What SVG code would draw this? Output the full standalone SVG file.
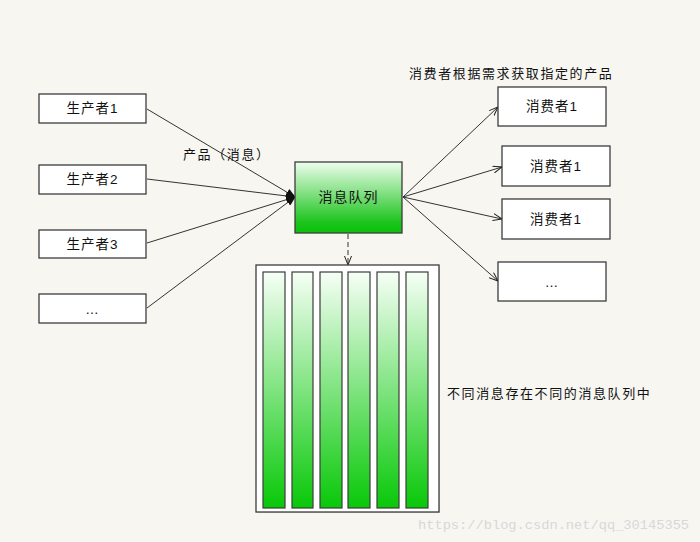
<svg xmlns="http://www.w3.org/2000/svg" width="700" height="542" viewBox="0 0 700 542">
<style>
.bg{fill:#f7f6f1}
.box{fill:#ffffff;stroke:#3c3c3c;stroke-width:1.3}
.gbox{fill:url(#g);stroke:#3c3c3c;stroke-width:1.3}
.bar{fill:url(#g2);stroke:#3c3c3c;stroke-width:1.2}
.t{font-family:"Liberation Sans","Noto Sans CJK SC",sans-serif;font-size:13.5px;fill:#111;text-anchor:middle;dominant-baseline:central;letter-spacing:1px}
.lbl{font-family:"Liberation Sans","Noto Sans CJK SC",sans-serif;font-size:13px;fill:#111;dominant-baseline:central;letter-spacing:1.6px}
.ln{stroke:#333;stroke-width:1;fill:none}
.wm{font-family:"Liberation Mono","Noto Sans CJK SC",monospace;font-size:13.7px;fill:#d8d8d8;dominant-baseline:central}
</style>
<defs>
<linearGradient id="g" x1="0" y1="0" x2="0" y2="1">
<stop offset="0" stop-color="#eefeee"/>
<stop offset="0.85" stop-color="#1cc41c"/>
<stop offset="1" stop-color="#0cc00c"/>
</linearGradient>
<linearGradient id="g2" x1="0" y1="0" x2="0" y2="1">
<stop offset="0" stop-color="#f6fff6"/>
<stop offset="1" stop-color="#08c808"/>
</linearGradient>
<marker id="af" markerWidth="10" markerHeight="8" refX="9" refY="4" orient="auto" markerUnits="userSpaceOnUse">
<path d="M0,0 L10,4 L0,8 Z" fill="#111"/>
</marker>
<marker id="ao" markerWidth="10" markerHeight="8" refX="9" refY="4" orient="auto" markerUnits="userSpaceOnUse">
<path d="M0,0.5 L9,4 L0,7.5" fill="none" stroke="#222" stroke-width="1"/>
</marker>
</defs>
<rect class="bg" x="0" y="0" width="700" height="542"/>

<g id="connectors">
<line class="ln" x1="147" y1="109" x2="295" y2="197" marker-end="url(#af)"/>
<line class="ln" x1="147" y1="179" x2="295" y2="197" marker-end="url(#af)"/>
<line class="ln" x1="147" y1="243" x2="295" y2="197" marker-end="url(#af)"/>
<line class="ln" x1="147" y1="308" x2="295" y2="197" marker-end="url(#af)"/>
<line class="ln" x1="403" y1="197" x2="498" y2="107" marker-end="url(#ao)"/>
<line class="ln" x1="403" y1="197" x2="502" y2="167" marker-end="url(#ao)"/>
<line class="ln" x1="403" y1="197" x2="502" y2="219" marker-end="url(#ao)"/>
<line class="ln" x1="403" y1="197" x2="498" y2="281" marker-end="url(#ao)"/>
<line class="ln" x1="348" y1="234" x2="348" y2="265" stroke-dasharray="5,3" marker-end="url(#ao)"/>
</g>

<text class="lbl" x="183" y="154">产品（消息）</text>
<text class="lbl" x="409" y="73">消费者根据需求获取指定的产品</text>
<text class="lbl" x="447" y="393">不同消息存在不同的消息队列中</text>

<g id="p1"><rect class="box" x="39" y="94" width="107" height="29"/><text class="t" x="92.5" y="108.5">生产者1</text></g>
<g id="p2"><rect class="box" x="39" y="165" width="107" height="29"/><text class="t" x="92.5" y="179.5">生产者2</text></g>
<g id="p3"><rect class="box" x="39" y="230" width="107" height="28"/><text class="t" x="92.5" y="244">生产者3</text></g>
<g id="p4"><rect class="box" x="39" y="294" width="107" height="29"/><text class="t" x="92.5" y="309">…</text></g>

<g id="queue"><rect class="gbox" x="295" y="162" width="107" height="71"/><text class="t" x="348.5" y="197" style="font-size:14px">消息队列</text></g>

<g id="c1"><rect class="box" x="498" y="87" width="108" height="39"/><text class="t" x="552" y="106.5">消费者1</text></g>
<g id="c2"><rect class="box" x="502" y="146" width="108" height="40"/><text class="t" x="556" y="166">消费者1</text></g>
<g id="c3"><rect class="box" x="502" y="199" width="108" height="40"/><text class="t" x="556" y="219">消费者1</text></g>
<g id="c4"><rect class="box" x="498" y="262" width="108" height="39"/><text class="t" x="552" y="282">…</text></g>

<g id="store">
<rect x="257" y="266" width="183" height="247" fill="#a0a0a0" opacity="0.35"/>
<rect class="box" x="256" y="265" width="183" height="247" fill="#f9f8f4"/>
<rect class="bar" x="263" y="272" width="22" height="236"/>
<rect class="bar" x="292" y="272" width="21" height="236"/>
<rect class="bar" x="320" y="272" width="22" height="236"/>
<rect class="bar" x="348" y="272" width="22" height="236"/>
<rect class="bar" x="377" y="272" width="22" height="236"/>
<rect class="bar" x="406" y="272" width="22" height="236"/>
</g>

<text class="wm" x="418" y="525">https://blog.csdn.net/qq_30145355</text>
</svg>
